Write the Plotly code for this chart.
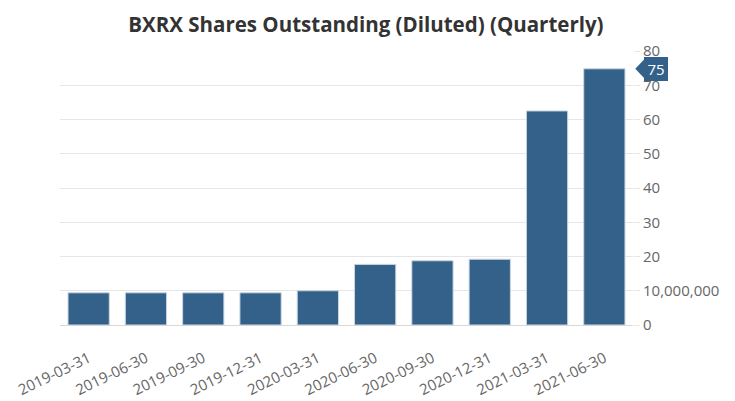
import plotly.graph_objects as go

dates = ["2019-03-31", "2019-06-30", "2019-09-30", "2019-12-31", "2020-03-31",
         "2020-06-30", "2020-09-30", "2020-12-31", "2021-03-31", "2021-06-30"]
shares_millions = [9.4, 9.4, 9.4, 9.4, 10.0, 17.7, 18.75, 19.2, 62.5, 74.8]
tick_vals = [0, 10, 20, 30, 40, 50, 60, 70, 80]
tick_text = ["0", "10,000,000", "20", "30", "40", "50", "60", "70", "80"]
last_label = "75"

bar_color = "#346189"

fig = go.Figure()
fig.add_trace(go.Bar(
    x=dates, y=shares_millions,
    marker=dict(color=bar_color, line=dict(color="#c9d6e3", width=1)),
    hoverinfo="x+y",
))

fig.update_layout(
    width=735, height=401,
    margin=dict(l=52, r=110, t=43, b=84),
    paper_bgcolor="white", plot_bgcolor="white",
    font=dict(family="Open Sans, sans-serif", color="#666666", size=14),
    title=dict(text="<b>BXRX Shares Outstanding (Diluted) (Quarterly)</b>",
               x=0.487, xanchor="center", y=0.975, yanchor="top",
               font=dict(size=20.5, color="#333333")),
    bargap=0.28,
    showlegend=False,
)
fig.update_xaxes(
    type="category", tickangle=-26, showgrid=False,
    showline=True, linecolor="#d8d8d8", linewidth=1,
    ticks="", tickfont=dict(size=15, color="#666666"),
    ticklabelstandoff=18, automargin=False,
)
fig.update_yaxes(
    side="right", range=[0, 80], tickvals=tick_vals, ticktext=tick_text,
    showgrid=True, gridcolor="#e6e6e6", gridwidth=1,
    ticks="outside", ticklen=6, tickcolor="#e6e6e6",
    zeroline=False, tickfont=dict(size=15, color="#666666"),
    automargin=False,
)

# value tag for last bar
fig.add_annotation(
    xref="paper", x=1.02, xanchor="left", y=shares_millions[-1], yref="y",
    text=last_label, showarrow=False,
    font=dict(color="white", size=15),
    bgcolor=bar_color, bordercolor=bar_color, borderpad=1, width=20,
)
fig.add_shape(
    type="path", xref="paper", yref="y",
    path="M 1.021 77.8 L 1.004 74.8 L 1.021 71.8 Z",
    fillcolor=bar_color, line=dict(width=0),
)

fig.write_html("out.html")
